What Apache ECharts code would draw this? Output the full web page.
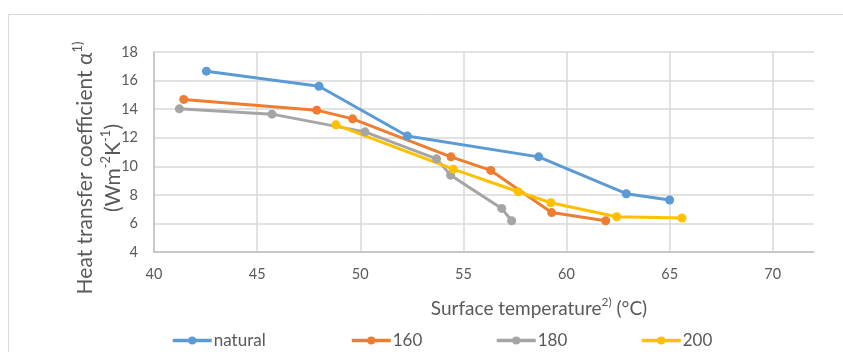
<!DOCTYPE html>
<html>
<head>
<meta charset="utf-8">
<title>Heat transfer coefficient</title>
<script src="https://cdn.jsdelivr.net/npm/echarts@6/dist/echarts.min.js"></script>
<style>
  html, body { margin: 0; padding: 0; background: #fff; }
  #chart { width: 843px; height: 352px; }
</style>
</head>
<body>
<div id="chart"></div>
<script>
// values
var naturalX = [42.54, 48.0, 52.28, 58.65, 62.9, 65.0];
var naturalY = [16.66, 15.6, 12.12, 10.66, 8.08, 7.64];

var t160X = [41.44, 47.89, 49.63, 54.4, 56.33, 59.28, 61.9];
var t160Y = [14.68, 13.93, 13.32, 10.66, 9.71, 6.76, 6.19];

var t180X = [41.23, 45.72, 50.23, 53.7, 54.38, 56.86, 57.34];
var t180Y = [14.02, 13.65, 12.41, 10.52, 9.38, 7.05, 6.19];

var t200X = [48.82, 54.51, 57.66, 59.24, 62.43, 65.6];
var t200Y = [12.9, 9.8, 8.22, 7.45, 6.47, 6.38];

var seriesNames = ["natural", "160", "180", "200"];
var seriesColors = ["#5B9BD5", "#ED7D31", "#A5A5A5", "#FFC000"];

function pairs(xs, ys) {
  var out = [];
  for (var i = 0; i < xs.length; i++) out.push([xs[i], ys[i]]);
  return out;
}

var allData = [
  pairs(naturalX, naturalY),
  pairs(t160X, t160Y),
  pairs(t180X, t180Y),
  pairs(t200X, t200Y)
];

var font = "Lato, 'Open Sans', sans-serif";

var series = seriesNames.map(function (name, i) {
  return {
    name: name,
    type: "line",
    data: allData[i],
    symbol: "circle",
    symbolSize: 9,
    lineStyle: { width: 3, color: seriesColors[i] },
    itemStyle: { color: seriesColors[i] },
    animation: false
  };
});

// one legend per entry so each sits where Excel put it
var legendLefts = [166, 345, 490, 635];
var legends = seriesNames.map(function (name, i) {
  return {
    data: [name],
    left: legendLefts[i],
    top: 327,
    itemWidth: 39,
    itemHeight: 10,
    lineStyle: { width: 3.5 },
    textStyle: { color: "#595959", fontSize: 17, fontFamily: font, padding: [0, 0, 0, -3] }
  };
});

var myChart = echarts.init(document.getElementById("chart"));
myChart.setOption({
  backgroundColor: "#fff",
  animation: false,
  grid: { left: 154, top: 52, right: 29, bottom: 100 },
  xAxis: {
    type: "value",
    min: 40,
    max: 72,
    interval: 5,
    axisLine: { lineStyle: { color: "#bfbfbf", width: 1.5 } },
    axisTick: { show: false },
    axisLabel: {
      color: "#595959", fontSize: 14.5, fontFamily: font, margin: 15,
      showMaxLabel: false
    },
    splitLine: { lineStyle: { color: "#d9d9d9", width: 1.5 }, showMaxLine: false }
  },
  yAxis: {
    type: "value",
    min: 4,
    max: 18,
    interval: 2,
    axisLine: { show: true, lineStyle: { color: "#bfbfbf", width: 1.5 } },
    axisTick: { show: false },
    axisLabel: { color: "#595959", fontSize: 14.5, fontFamily: font, margin: 16 },
    splitLine: { lineStyle: { color: "#d9d9d9", width: 1.5 } }
  },
  legend: legends,
  graphic: [
    {
      type: "rect",
      silent: true,
      shape: { x: 8.5, y: 14.5, width: 900, height: 400 },
      style: { fill: "none", stroke: "#d9d9d9", lineWidth: 1 },
      z: -10
    },
    {
      type: "text",
      x: 99,
      y: 168,
      rotation: Math.PI / 2,
      style: {
        text: "{n|Heat transfer coefficient α}{s|1)}\n{n|(Wm}{s|-2}{n|K}{s|-1}{n|)}",
        align: "center",
        verticalAlign: "middle",
        fill: "#595959",
        rich: {
          n: { fontSize: 21, fontFamily: font, color: "#595959", lineHeight: 28 },
          s: { fontSize: 13, fontFamily: font, color: "#595959", lineHeight: 16, verticalAlign: "top" }
        }
      }
    },
    {
      type: "text",
      x: 539,
      y: 309,
      style: {
        text: "{n|Surface temperature}{s|2)}{n| (°C)}",
        align: "center",
        verticalAlign: "middle",
        fill: "#595959",
        rich: {
          n: { fontSize: 19, fontFamily: font, color: "#595959", lineHeight: 26 },
          s: { fontSize: 12, fontFamily: font, color: "#595959", lineHeight: 15, verticalAlign: "top" }
        }
      }
    }
  ],
  series: series
});
</script>
</body>
</html>
